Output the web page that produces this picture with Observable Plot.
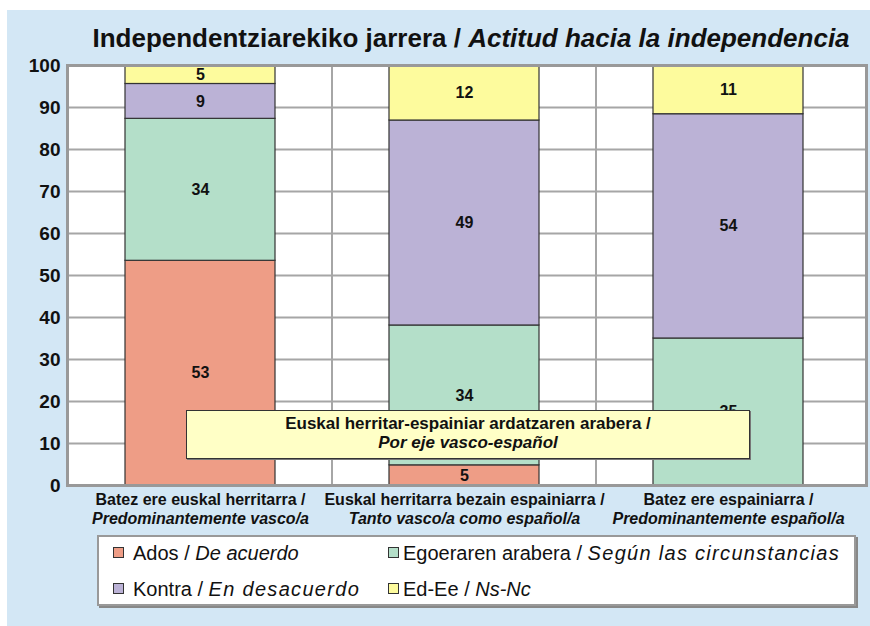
<!DOCTYPE html>
<html>
<head>
<meta charset="utf-8">
<script src="https://cdn.jsdelivr.net/npm/d3@7"></script>
<script src="https://cdn.jsdelivr.net/npm/@observablehq/plot@0.6"></script>
<style>
  html, body { margin: 0; padding: 0; background: #ffffff; }
  body { width: 870px; height: 626px; position: relative; overflow: hidden; font-family: "Liberation Sans", Arial, sans-serif; }
  #panel { position: absolute; left: 7px; top: 10px; width: 863px; height: 616px; background: #d3e7f5; }
  #title { position: absolute; left: 0; top: 23px; width: 942px; text-align: center; font-size: 26px; font-weight: bold; color: #111; white-space: nowrap; }
  #chart { position: absolute; left: 0; top: 0; }
  #chart svg text { font-family: "Liberation Sans", Arial, sans-serif; }
  #note { position: absolute; left: 186px; top: 410px; width: 562px; height: 44px; background: #ffffc6; border: 1px solid #333;
          box-shadow: 1px 1px 0 #777; text-align: center; font-size: 17px; font-weight: bold; line-height: 19px; padding-top: 3px; color: #111; white-space: nowrap; }
  #legend { position: absolute; left: 97px; top: 535px; width: 755px; height: 67px; background: #fff; border: 2px solid #999;
            box-shadow: 2px 2px 0 #888; }
  .li { position: absolute; font-size: 20px; color: #111; white-space: nowrap; line-height: 24px; }
  .sw { display: inline-block; width: 9px; height: 9px; border: 1px solid #333; margin-right: 9px; vertical-align: 2px; }
  .sw.c2 { margin-right: 4px; }
  .sp { letter-spacing: 1.3px; }
</style>
</head>
<body>
<div id="panel"></div>
<div id="title">Independentziarekiko jarrera / <i>Actitud hacia la independencia</i></div>
<div id="chart"></div>
<div id="note">Euskal herritar-espainiar ardatzaren arabera /<br><i>Por eje vasco-español</i></div>
<div id="legend"></div>
<script>
// Categories (x axis), two-line labels
const groups = ["vasco", "ambos", "espanol"];
const groupLine1 = ["Batez ere euskal herritarra /", "Euskal herritarra bezain espainiarra /", "Batez ere espainiarra /"];
const groupLine2 = ["Predominantemente vasco/a", "Tanto vasco/a como español/a", "Predominantemente español/a"];

// Series (stack order, bottom to top)
const series = ["Ados / De acuerdo", "Egoeraren arabera / Según las circunstancias", "Kontra / En desacuerdo", "Ed-Ee / Ns-Nc"];
const seriesBasque = ["Ados", "Egoeraren arabera", "Kontra", "Ed-Ee"];
const seriesSpanish = ["De acuerdo", "Según las circunstancias", "En desacuerdo", "Ns-Nc"];
const colors = ["#ee9d86", "#b4dfc9", "#bbb2d6", "#fdfb9d"];

// Values per series (heights), per group
const adosValues      = [53.5, 4.8, 0];
const egoeraValues    = [33.8, 33.3, 35.0];
const kontraValues    = [8.3, 48.8, 53.4];
const nsncValues      = [4.4, 13.1, 11.4];
// Printed labels
const adosLabels   = ["53", "5", ""];
const egoeraLabels = ["34", "34", "35"];
const kontraLabels = ["9", "49", "54"];
const nsncLabels   = ["5", "12", "11"];

const yTicks = [0, 10, 20, 30, 40, 50, 60, 70, 80, 90, 100];

const valueSets = [adosValues, egoeraValues, kontraValues, nsncValues];
const labelSets = [adosLabels, egoeraLabels, kontraLabels, nsncLabels];
const table = [];
series.forEach((s, si) => {
  groups.forEach((g, gi) => {
    table.push({group: g, series: s, value: valueSets[si][gi], label: labelSets[si][gi]});
  });
});

const chart = Plot.plot({
  width: 870,
  height: 530,
  marginLeft: 67,
  marginRight: 4,
  marginTop: 65,
  marginBottom: 45,
  style: {background: "transparent", overflow: "visible"},
  x: {domain: groups, padding: 0, range: [67, 860], axis: null},
  y: {domain: [0, 100], axis: null},
  color: {domain: series, range: colors},
  marks: [
    Plot.frame({fill: "#ffffff"}),
    Plot.ruleY(yTicks, {stroke: "#a6a6a6", strokeWidth: 2}),
    Plot.barY(groups.slice(0, 2), {x: d => d, y1: 0, y2: 100, fill: "none", stroke: "#a6a6a6", strokeWidth: 2}),
    Plot.barY(table, Plot.stackY({x: "group", y: "value", fill: "series", stroke: "#333", strokeWidth: 1.2, insetLeft: 57, insetRight: 57})),
    Plot.text(table, Plot.stackY({x: "group", y: "value", text: "label", fontSize: 16, fontWeight: "bold", fill: "#111"})),
    Plot.frame({stroke: "#999", strokeWidth: 3}),
    Plot.text(yTicks, {y: d => d, text: d => String(d), frameAnchor: "left", textAnchor: "end", dx: -7, fontSize: 19, fontWeight: "bold", fill: "#111"}),
    Plot.text(groups, {x: d => d, text: (d, i) => groupLine1[i], frameAnchor: "bottom", dy: 19, fontSize: 16, fontWeight: "bold", fill: "#111"}),
    Plot.text(groups, {x: d => d, text: (d, i) => groupLine2[i], frameAnchor: "bottom", dy: 38, fontSize: 16, fontWeight: "bold", fontStyle: "italic", fill: "#111"})
  ]
});
document.getElementById("chart").appendChild(chart);

// Legend (2 columns x 2 rows: Ados, Egoera / Kontra, Ns-Nc)
const legend = document.getElementById("legend");
const pos = [[14, 4], [289, 4], [14, 40], [289, 40]];
const spaced = [false, true, true, false];
[0, 1, 2, 3].forEach((si, k) => {
  const d = document.createElement("div");
  d.className = "li";
  d.style.left = pos[k][0] + "px";
  d.style.top = pos[k][1] + "px";
  const sw = document.createElement("span");
  sw.className = "sw" + (k % 2 === 1 ? " c2" : "");
  sw.style.background = colors[si];
  d.appendChild(sw);
  d.appendChild(document.createTextNode(seriesBasque[si] + " / "));
  const it = document.createElement("i");
  it.textContent = seriesSpanish[si];
  if (spaced[si]) it.className = "sp";
  d.appendChild(it);
  legend.appendChild(d);
});
</script>
</body>
</html>
